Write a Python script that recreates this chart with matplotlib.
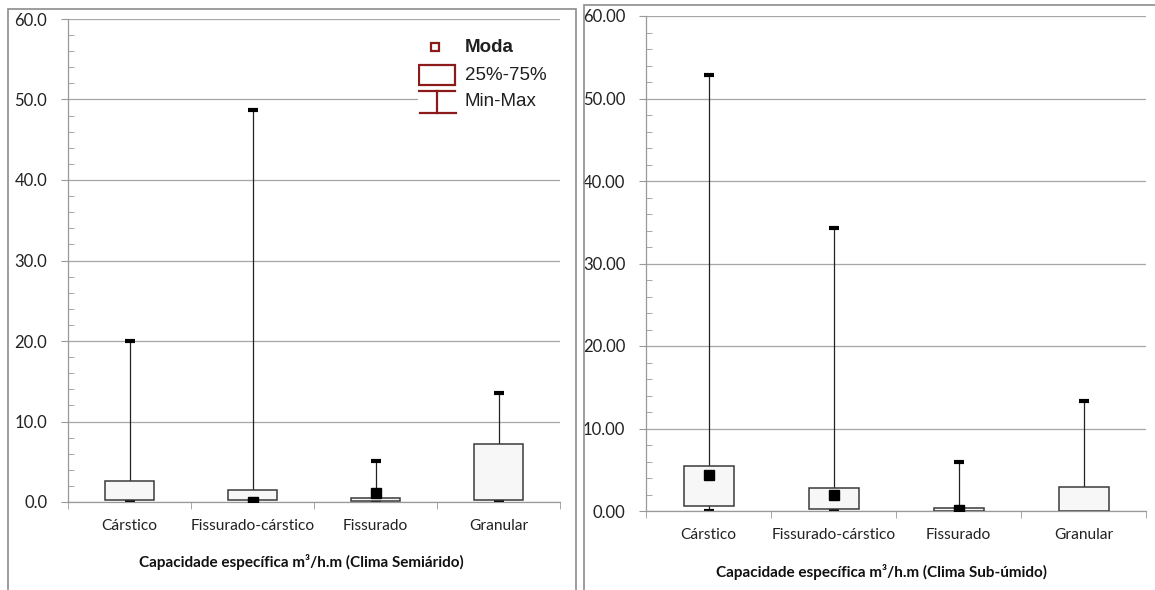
import numpy as np
import matplotlib
matplotlib.use("Agg")
from matplotlib import pyplot as plt
from matplotlib.patches import Rectangle
from matplotlib.ticker import MultipleLocator, FormatStrFormatter

categories = ['Cárstico', 'Fissurado-cárstico', 'Fissurado', 'Granular']

# Clima Semiárido
semi_min = [0.15, 0.05, 0.05, 0.2]
semi_q1 = [0.3, 0.2, 0.1, 0.2]
semi_q3 = [2.6, 1.5, 0.5, 7.25]
semi_max = [20.0, 48.65, 5.1, 13.6]
semi_moda = [np.nan, 0.05, 1.1, np.nan]

# Clima Sub-úmido
sub_min = [0.05, 0.05, 0.05, 0.05]
sub_q1 = [0.55, 0.25, 0.0, 0.05]
sub_q3 = [5.4, 2.8, 0.4, 2.85]
sub_max = [52.8, 34.3, 5.95, 13.3]
sub_moda = [4.4, 2.0, 0.12, np.nan]

W, H = 1155, 590
fig = plt.figure(figsize=(W / 100, H / 100), dpi=100)
plt.rcParams['font.family'] = ['Lato', 'DejaVu Sans']

grid_c = '#a6a6a6'
red = '#8b1a1a'


def draw_panel(rect, vmin, q1, q3, vmax, moda, fmt, xlabel, xlabel_pos):
    ax = fig.add_axes(rect)
    x = np.arange(len(categories))
    # whiskers, boxes, caps, mode
    ax.vlines(x, vmin, vmax, color='#222222', lw=0.9, zorder=2)
    ax.bar(x, np.array(q3) - np.array(q1), bottom=q1, width=0.4,
           color='#f7f7f7', edgecolor='#3a3a3a', lw=1.1, zorder=3)
    ax.plot(x, vmax, ls='none', marker='_', ms=7, mew=3, color='black', zorder=4)
    ax.plot(x, vmin, ls='none', marker='_', ms=7, mew=3, color='black', zorder=2.5)
    ax.plot(x, moda, ls='none', marker='s', ms=7, color='black', zorder=5)

    ax.set_xlim(-0.5, len(categories) - 0.5)
    ax.set_ylim(0, 60)
    ax.yaxis.set_major_locator(MultipleLocator(10))
    ax.yaxis.set_minor_locator(MultipleLocator(2))
    ax.yaxis.set_major_formatter(FormatStrFormatter(fmt))
    ax.grid(axis='y', color=grid_c, lw=0.9)
    ax.set_axisbelow(True)

    ax.set_xticks(x)
    ax.set_xticklabels(categories)
    ax.set_xticks(np.arange(-0.5, len(categories)), minor=True)
    ax.tick_params(axis='x', which='major', length=0, pad=12, labelsize=11.2,
                   labelcolor='#222222')
    ax.tick_params(axis='x', which='minor', length=5, color='#999999', direction='out')
    ax.tick_params(axis='y', which='major', length=5, color='#999999', direction='out',
                   pad=10, labelsize=12, labelcolor='#222222')
    ax.tick_params(axis='y', which='minor', length=4, color='#999999', direction='in')

    for s in ['top', 'right']:
        ax.spines[s].set_visible(False)
    for s in ['left', 'bottom']:
        ax.spines[s].set_color('#999999')
        ax.spines[s].set_linewidth(0.9)

    fig.text(xlabel_pos[0] / W, 1 - xlabel_pos[1] / H, xlabel, ha='center', va='center',
             fontsize=11, fontweight='bold', color='#111111')
    return ax


axL = draw_panel([68 / W, 88 / H, 492 / W, 483 / H], semi_min, semi_q1, semi_q3,
                 semi_max, semi_moda, '%.1f',
                 'Capacidade específica m³/h.m (Clima Semiárido)', (301, 562))
axR = draw_panel([646 / W, 79 / H, 500 / W, 495 / H], sub_min, sub_q1, sub_q3,
                 sub_max, sub_moda, '%.2f',
                 'Capacidade específica m³/h.m (Clima Sub-úmido)', (882, 572))

# legend (drawn as a small white box in pixel-like coordinates)
lg = fig.add_axes([418 / W, 1 - 122 / H, 142 / W, 88 / H])
lg.set_xlim(418, 560)
lg.set_ylim(122, 34)
lg.axis('off')
lg.add_patch(Rectangle((418, 34), 142, 88, facecolor='white', edgecolor='none', zorder=0))
lg.plot([435], [47], marker='s', ms=5.5, mfc='white', mec=red, mew=1.6)
lg.add_patch(Rectangle((419, 65), 36, 20, facecolor='white', edgecolor=red, lw=1.6))
lg.plot([419, 455], [91, 91], color=red, lw=1.6)
lg.plot([437, 437], [91, 113], color=red, lw=1.6)
lg.plot([420, 456], [113, 113], color=red, lw=1.6)
leg_font = ['Liberation Sans', 'DejaVu Sans']
lg.text(465, 47, 'Moda', fontsize=13.5, fontweight='bold', va='center',
        family=leg_font, color='#202020')
lg.text(465, 75, '25%-75%', fontsize=13.5, va='center', family=leg_font, color='#202020')
lg.text(465, 102, 'Min-Max', fontsize=13.5, va='center', family=leg_font, color='#202020')

# outer frames of the two charts
fig.add_artist(Rectangle((7.5 / W, -0.05), 568 / W, 1.05 - 9 / H, transform=fig.transFigure,
                         fill=False, edgecolor='#8c8c8c', lw=1.2))
fig.add_artist(Rectangle((584 / W, -0.05), 600 / W, 1.05 - 5 / H, transform=fig.transFigure,
                         fill=False, edgecolor='#8c8c8c', lw=1.2))

fig.savefig('out.png', dpi=100)
